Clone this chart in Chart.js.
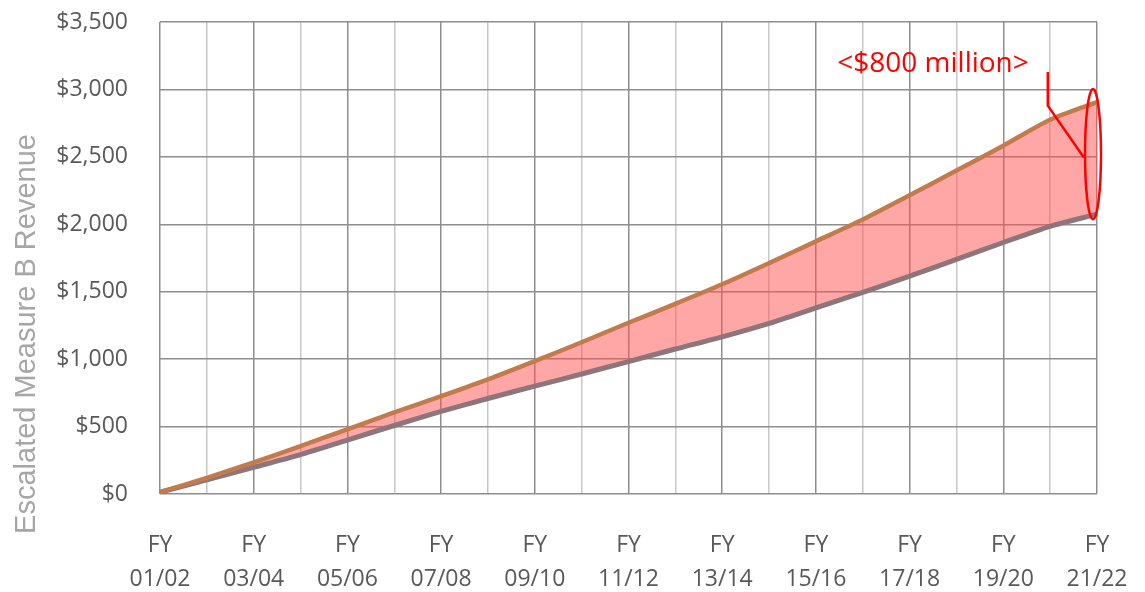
<!DOCTYPE html>
<html>
<head>
<meta charset="utf-8">
<script src="https://cdn.jsdelivr.net/npm/chart.js@4"></script>
<style>
  html, body { margin: 0; padding: 0; background: #fff; }
  #wrap { width: 1145px; height: 592px; position: relative; }
</style>
</head>
<body>
<div id="wrap"><canvas id="chart"></canvas></div>
<script>
// ── Data ───────────────────────────────────────────────────────────────────

const YEARS = ['01/02', '02/03', '03/04', '04/05', '05/06', '06/07', '07/08', '08/09', '09/10', '10/11',
               '11/12', '12/13', '13/14', '14/15', '15/16', '16/17', '17/18', '18/19', '19/20', '20/21', '21/22'];
const ESCALATED = [13, 120, 235, 355, 480, 605, 725, 850, 985, 1125, 1270, 1410, 1555, 1712, 1873, 2035, 2215, 2398, 2583, 2775, 2906];
const BASELINE  = [13, 105, 198, 292, 400, 508, 612, 708, 800, 890, 982, 1075, 1165, 1265, 1380, 1495, 1615, 1740, 1865, 1985, 2075];
const Y_TICKS   = { min: 0, max: 3500, step: 500 };

const Y_TITLE = 'Escalated Measure B Revenue';
const NOTE    = '<$800 million>';

// annotation anchors in data units (category index, $)
const NOTE_AT   = [16.5, 3190];
const LEADER    = [[18.95, 3130], [18.95, 2880], [19.72, 2495]];

// ── Colors ─────────────────────────────────────────────────────────────────

const BROWN  = '#c27b4d';
const MAUVE  = '#8c767b';
const BAND   = 'rgba(255, 80, 80, 0.5)';
const EDGE   = '#e5482a';
const GRID_D = '#8e8e8e';
const GRID_L = '#c8c8c8';
const TICK   = '#595959';

// ── Annotation plugin ──────────────────────────────────────────────────────

const annotate = {
  id: 'annotate',
  afterDraw(chart) {
    const { ctx, scales: { x, y } } = chart;
    const last = YEARS.length - 1;

    // rotated axis title
    ctx.save();
    ctx.translate(27, 334);
    ctx.rotate(-Math.PI / 2);
    ctx.font = "29px 'Liberation Sans', Arial, sans-serif";
    ctx.fillStyle = '#a6a6a6';
    ctx.textAlign = 'center';
    ctx.textBaseline = 'middle';
    ctx.fillText(Y_TITLE, 0, 0);
    ctx.restore();

    // ellipse round the final gap
    const top = y.getPixelForValue(ESCALATED[last]);
    const bot = y.getPixelForValue(BASELINE[last]);
    ctx.save();
    ctx.strokeStyle = '#ff0000';
    ctx.lineWidth = 2.5;
    ctx.beginPath();
    ctx.ellipse(x.getPixelForValue(last) - 4, (top + bot) / 2 - 4, 8, (bot - top) / 2 + 9, 0, 0, Math.PI * 2);
    ctx.stroke();

    // leader line
    ctx.beginPath();
    LEADER.forEach(([i, v], k) => {
      const px = x.getPixelForValue(i), py = y.getPixelForValue(v);
      k ? ctx.lineTo(px, py) : ctx.moveTo(px, py);
    });
    ctx.stroke();

    // label
    ctx.font = "28px 'Open Sans', sans-serif";
    ctx.fillStyle = '#ff0000';
    ctx.textAlign = 'center';
    ctx.textBaseline = 'middle';
    ctx.fillText(NOTE, x.getPixelForValue(NOTE_AT[0]), y.getPixelForValue(NOTE_AT[1]));
    ctx.restore();
  }
};

// ── Chart ──────────────────────────────────────────────────────────────────

const line = (data, color, width, extra = {}) => ({
  data,
  borderColor: color,
  backgroundColor: 'transparent',
  borderWidth: width,
  pointRadius: 0,
  tension: 0.25,
  fill: false,
  ...extra
});

new Chart(document.getElementById('chart'), {
  type: 'line',
  data: {
    labels: YEARS,
    datasets: [
      line(ESCALATED, BROWN, 4.5),
      line(BASELINE, MAUVE, 5),
      line(ESCALATED, EDGE, 1.5, { fill: { target: 1 }, backgroundColor: BAND })
    ]
  },
  options: {
    responsive: true,
    maintainAspectRatio: false,
    animation: false,
    layout: { padding: { top: 22, right: 48, left: 0, bottom: 0 } },
    plugins: { legend: { display: false }, tooltip: { enabled: false } },
    scales: {
      x: {
        afterFit: s => { s.height = 98; s.paddingRight = 0; },
        grid: {
          color: c => (c.index % 2 ? GRID_L : GRID_D),
          lineWidth: 1.5,
          drawTicks: false
        },
        border: { display: false },
        ticks: {
          autoSkip: false,
          maxRotation: 0,
          padding: 35,
          color: TICK,
          font: { family: "'Open Sans', sans-serif", size: 23, lineHeight: 1.45 },
          callback: (v, i) => (i % 2 ? '' : ['FY', YEARS[i]])
        }
      },
      y: {
        min: Y_TICKS.min,
        max: Y_TICKS.max,
        afterFit: s => { s.width = 160; s.paddingTop = 0; },
        grid: { color: GRID_D, lineWidth: 1.5, drawTicks: false },
        border: { display: false },
        ticks: {
          stepSize: Y_TICKS.step,
          padding: 32,
          color: TICK,
          font: { family: "'Open Sans', sans-serif", size: 23 },
          callback: v => '$' + v.toLocaleString('en-US')
        }
      }
    }
  },
  plugins: [annotate]
});
</script>
</body>
</html>
